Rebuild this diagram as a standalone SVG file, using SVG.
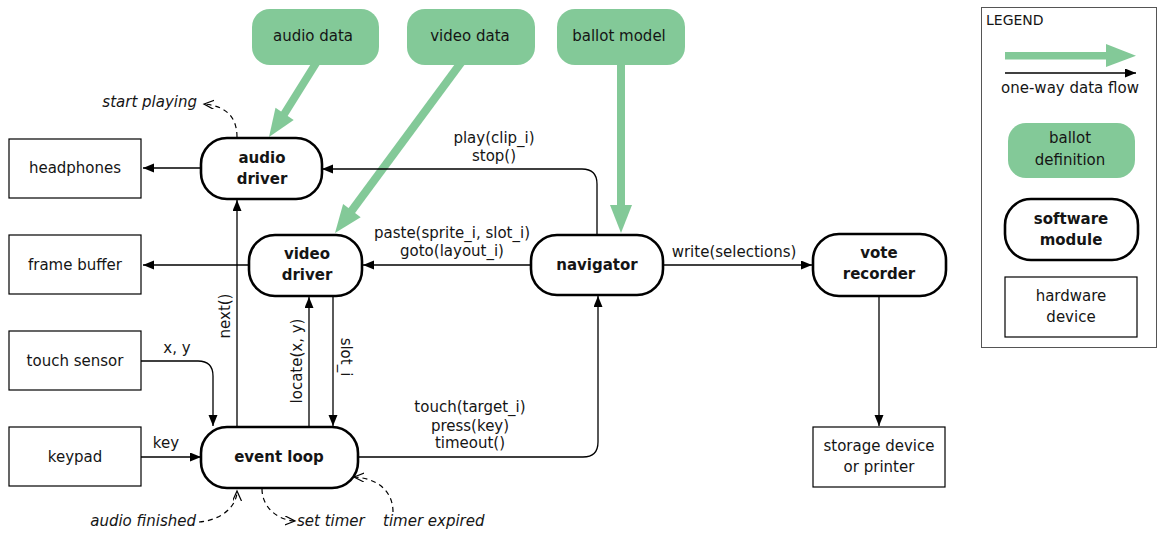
<svg xmlns="http://www.w3.org/2000/svg" width="1158" height="534" viewBox="0 0 1158 534">
<style>
text{font-family:"DejaVu Sans","Liberation Sans",sans-serif;font-size:15px;fill:#151515}
.c{text-anchor:middle}
.b{font-weight:bold}
.i{font-style:italic}
.sw{fill:#fff;stroke:#000;stroke-width:2.6}
.hw{fill:#fff;stroke:#000;stroke-width:1.2}
.bd{fill:#83c998}
.ln{fill:none;stroke:#000;stroke-width:1.3}
.dl{fill:none;stroke:#000;stroke-width:1.2;stroke-dasharray:5,4}
.gl{stroke:#83c998;stroke-width:8;fill:none}
.gh{fill:#83c998}
</style>
<defs>
<marker id="ah" markerUnits="userSpaceOnUse" markerWidth="12" markerHeight="10" refX="11" refY="4.5" orient="auto">
<path d="M0,0 L11,4.5 L0,9 z" fill="#000"/>
</marker>
<marker id="oh" markerUnits="userSpaceOnUse" markerWidth="12" markerHeight="10" refX="10" refY="4.5" orient="auto">
<path d="M0,0 L10,4.5 L0,9" fill="none" stroke="#000" stroke-width="1.2"/>
</marker>
</defs>
<rect width="1158" height="534" fill="#fff"/>

<g id="data-flows">
<line class="gl" x1="318" y1="60" x2="283" y2="116"/>
<polygon class="gh" points="269,137 293.7,119.9 275.5,107.7"/>
<line class="gl" x1="463" y1="60" x2="350" y2="213"/>
<polygon class="gh" points="335,233 360.7,217.3 343.1,204.1"/>
<line class="gl" x1="621" y1="60" x2="621" y2="207"/>
<polygon class="gh" points="621,233 610,205 632,205"/>
</g>

<g id="connectors">
<path class="ln" d="M201,168 L143,168" marker-end="url(#ah)"/>
<path class="ln" d="M597,235 L597,184 Q597,169 582,169 L322,169" marker-end="url(#ah)"/>
<path class="ln" d="M249,265 L143,265" marker-end="url(#ah)"/>
<path class="ln" d="M531,265 L363,265" marker-end="url(#ah)"/>
<path class="ln" d="M663,265 L812,265" marker-end="url(#ah)"/>
<path class="ln" d="M879,296 L879,426" marker-end="url(#ah)"/>
<path class="ln" d="M141,457 L201,457" marker-end="url(#ah)"/>
<path class="ln" d="M141,361 L198,361 Q213,361 213,376 L213,426" marker-end="url(#ah)"/>
<path class="ln" d="M237,427 L237,200" marker-end="url(#ah)"/>
<path class="ln" d="M309,427 L309,297" marker-end="url(#ah)"/>
<path class="ln" d="M333,296 L333,426" marker-end="url(#ah)"/>
<path class="ln" d="M358,457 L583,457 Q598,457 598,442 L598,296" marker-end="url(#ah)"/>
<path class="dl" d="M237,137 C237,119 228,106 204,104" marker-end="url(#oh)"/>
<path class="dl" d="M199,522 C222,520 237,506 237,491" marker-end="url(#oh)"/>
<path class="dl" d="M262,489 C262,506 276,520 295,521" marker-end="url(#oh)"/>
<path class="dl" d="M393,512 C393,490 376,478 354,477" marker-end="url(#oh)"/>
<text x="494" y="143" class="c">play(clip_i)</text>
<text x="494" y="161" class="c">stop()</text>
<text x="452" y="238" class="c">paste(sprite_i, slot_i)</text>
<text x="452" y="256" class="c">goto(layout_i)</text>
<text x="734" y="257" class="c">write(selections)</text>
<text x="177" y="353" class="c">x, y</text>
<text x="166" y="448" class="c">key</text>
<text x="470" y="412" class="c">touch(target_i)</text>
<text x="470" y="431" class="c">press(key)</text>
<text x="470" y="448" class="c">timeout()</text>
<text transform="translate(230,316) rotate(-90)" class="c">next()</text>
<text transform="translate(302,361) rotate(-90)" class="c">locate(x, y)</text>
<text transform="translate(341,357) rotate(90)" class="c">slot_i</text>
<text x="197" y="107" class="i" text-anchor="end">start playing</text>
<text x="196" y="526" class="i" text-anchor="end">audio finished</text>
<text x="297" y="526" class="i">set timer</text>
<text x="383" y="526" class="i">timer expired</text>
</g>

<g id="audio-data"><rect class="bd" x="252" y="9" width="127" height="56" rx="18"/><text x="313" y="41" class="c">audio data</text></g>
<g id="video-data"><rect class="bd" x="407" y="9" width="128" height="56" rx="18"/><text x="470" y="41" class="c">video data</text></g>
<g id="ballot-model"><rect class="bd" x="557" y="9" width="128" height="56" rx="18"/><text x="619" y="41" class="c">ballot model</text></g>

<g id="headphones"><rect class="hw" x="9" y="139" width="132" height="59"/><text x="75" y="173" class="c">headphones</text></g>
<g id="frame-buffer"><rect class="hw" x="9" y="235" width="132" height="59"/><text x="75" y="270" class="c">frame buffer</text></g>
<g id="touch-sensor"><rect class="hw" x="9" y="331" width="132" height="59"/><text x="75" y="366" class="c">touch sensor</text></g>
<g id="keypad"><rect class="hw" x="9" y="427" width="132" height="59"/><text x="75" y="462" class="c">keypad</text></g>
<g id="storage"><rect class="hw" x="813" y="427" width="132" height="60"/><text x="879" y="451" class="c">storage device</text><text x="879" y="472" class="c">or printer</text></g>

<g id="audio-driver"><rect class="sw" x="201" y="138" width="121" height="61" rx="26"/><text x="262" y="163" class="c b">audio</text><text x="262" y="184" class="c b">driver</text></g>
<g id="video-driver"><rect class="sw" x="249" y="235" width="113" height="61" rx="26"/><text x="307" y="259" class="c b">video</text><text x="307" y="280" class="c b">driver</text></g>
<g id="navigator"><rect class="sw" x="531" y="235" width="132" height="60" rx="26"/><text x="597" y="270" class="c b">navigator</text></g>
<g id="vote-recorder"><rect class="sw" x="813" y="234" width="133" height="62" rx="26"/><text x="879" y="258" class="c b">vote</text><text x="879" y="279" class="c b">recorder</text></g>
<g id="event-loop"><rect class="sw" x="201" y="427" width="157" height="61" rx="26"/><text x="279" y="462" class="c b">event loop</text></g>

<g id="legend">
<rect x="981.5" y="7.5" width="175" height="340" fill="none" stroke="#555" stroke-width="1"/>
<text x="986" y="25" style="font-size:14px">LEGEND</text>
<rect class="gh" x="1005" y="52" width="103" height="7.5"/>
<polygon class="gh" points="1106,44 1136,55.7 1106,67"/>
<path class="ln" d="M1005,73 L1136,73" marker-end="url(#ah)"/>
<text x="1070" y="93" class="c">one-way data flow</text>
<rect class="bd" x="1008" y="123" width="127" height="55" rx="18"/>
<text x="1070" y="143" class="c">ballot</text>
<text x="1070" y="165" class="c">definition</text>
<rect class="sw" x="1005" y="199" width="133" height="61" rx="26"/>
<text x="1071" y="224" class="c b">software</text>
<text x="1071" y="245" class="c b">module</text>
<rect class="hw" x="1005" y="277" width="132" height="60"/>
<text x="1071" y="301" class="c">hardware</text>
<text x="1071" y="322" class="c">device</text>
</g>
</svg>
